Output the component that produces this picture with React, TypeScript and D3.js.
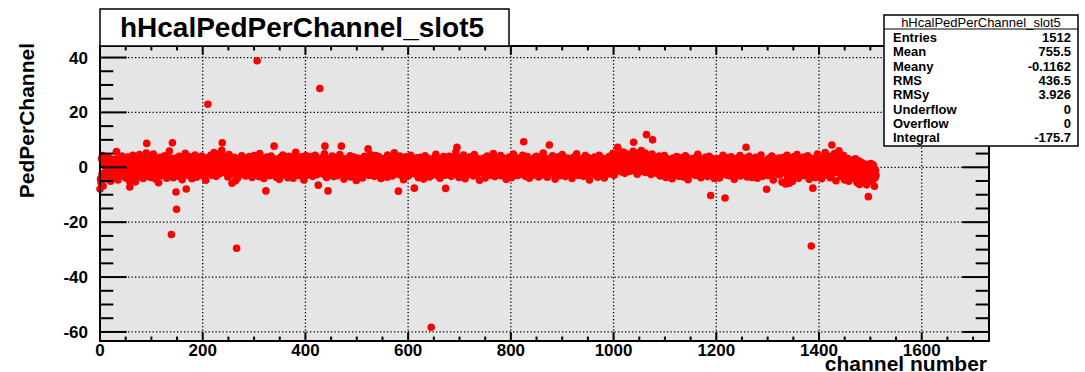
import React from "react";
import * as d3 from "d3";

// Pedestal value per channel (channel number = array index), slot 5.
const pedPerChannel: number[] = [
  -7.9, -4.2, -5.6, 3.1, -2.4, 4.3, -6.8, 1.2, -3.5, 2.7, 0.4, -1.9, 3.8, -0.6, 2.2, -4.4, 1.5, -2.8, 0.9, 3.3, -1.2, -5.1, 2.0, -0.3,
  0.8, -2.5, 1.9, -3.6, 2.4, -0.7, 3.0, -1.4, 5.7, -2.1, 0.3, -4.6, 1.7, 2.9, -0.9, -3.2, 2.5, 0.6, -1.8, 4.1, -2.7, 1.1, -0.4, 3.4,
  -1.6, 2.3, -3.9, 0.7, 1.8, -2.2, 3.7, -0.8, 0.2, -4.9, -7.2, 1.4, -1.1, 2.6, -3.0, 0.5, 4.4, -2.6, 1.0, -0.2, 2.8, -5.3, 0.1, -1.7,
  3.2, -0.5, -2.9, 1.6, -1.3, 4.6, -3.4, 2.1, -0.1, 0.9, -2.4, 3.5, -4.1, 1.3, -0.6, 2.7, -1.9, 0.4, 5.2, 8.7, -2.0, 1.7, -3.3, 0.6,
  2.4, -1.5, 0.2, -3.7, 3.9, -0.9, 1.4, -2.6, 4.8, 0.3, -1.0, 2.2, -4.3, 1.9, -0.4, 3.1, -2.3, 0.7, -5.6, 2.5, -1.4, 3.6, 0.0, -2.9,
  1.2, -3.1, 2.9, -0.7, 0.6, -1.8, 4.2, -2.5, 1.5, 3.0, -4.0, 0.8, -1.2, 2.3, -0.3, 5.9, -2.1, 1.8, 3.4, -24.5, -0.6, 8.9, 2.0, -3.8,
  0.4, 2.6, -1.7, 3.3, -9.0, -15.3, 1.1, -2.8, 0.9, -0.5, 4.0, -3.4, 1.6, -1.1, 2.4, 0.2, -4.5, 3.7, -0.9, 1.3, -2.2, 0.6, 5.1, -1.6,
  -7.9, 2.1, -0.8, 1.5, -3.0, 3.9, 0.3, -2.0, 2.7, -1.3, 0.5, -4.2, 1.9, 3.2, -0.6, -2.7, 0.8, 4.5, -1.5, 2.2, -3.6, 0.1, 1.4, -0.9,
  3.0, -1.9, 0.6, 2.4, -2.5, 1.3, 4.1, -0.4, -3.2, 1.8, 0.0, 3.5, -1.2, 2.9, -4.7, 0.7, 1.6, -0.7, 23.0, 2.0, -2.3, 3.7, 0.9, -1.1,
  4.4, 1.0, -2.9, 2.6, 0.3, -1.6, 5.4, 1.9, -0.2, 3.1, -3.3, 0.8, 2.2, -1.0, 4.7, 0.4, -2.4, 1.5, 3.8, -0.5, 2.5, 6.2, 8.9, 1.2,
  2.8, -0.3, 4.0, 1.1, -2.1, 3.4, 0.5, -1.4, 2.0, -3.5, 1.7, 4.6, -0.8, 0.2, 3.0, -2.6, 1.3, -5.8, 2.3, 0.7, -1.9, 3.6, -0.1, 1.8,
  -4.9, 0.9, -29.5, 2.7, -3.9, 1.4, -0.6, 3.2, -2.0, 0.4, 2.1, -1.3, 4.2, -0.4, 1.0, -2.7, 3.5, 0.0, -1.8, 2.6, -3.2, 1.7, 0.6, -0.9,
  2.3, -1.1, 0.8, 3.9, -2.4, 1.2, -0.5, 2.9, -3.7, 0.3, 1.9, -1.6, 4.3, 0.7, -2.2, 1.5, 3.1, -0.2, 38.8, -1.0, 2.4, -3.4, 0.9, 5.0,
  -0.7, 2.0, -2.8, 1.6, 3.4, -1.3, 0.2, -4.1, 2.5, 0.6, -1.9, -8.6, 1.3, 3.7, -0.4, -2.5, 0.9, 2.7, -3.1, 1.0, -0.8, 4.1, -1.5, 0.5,
  2.2, -2.3, 0.4, 7.7, 1.7, -0.9, 3.0, -3.6, 0.8, 1.5, -1.4, 2.8, -0.2, -4.4, 2.0, 0.1, 3.6, -1.7, 1.1, -2.9, 4.5, 0.6, -0.6, 1.9,
  -1.0, 3.3, 0.7, -2.6, 1.4, 2.1, -3.8, 0.3, 4.0, -1.5, 1.8, -0.3, 2.6, -2.1, 0.9, 3.5, -4.0, 1.2, 0.0, 2.9, -1.2, 5.5, -2.4, 0.8,
  1.6, -0.5, 3.1, -3.0, 0.4, 2.3, -1.7, 1.0, -2.3, 3.8, 0.6, -0.9, 1.9, -4.6, 2.7, 0.2, -1.3, 4.3, -0.4, 1.4, -2.8, 0.7, 3.2, -1.1,
  0.5, 2.6, -2.0, 1.3, 3.9, -0.6, -3.3, 2.1, 0.0, 1.7, -1.6, 4.4, -0.2, 2.4, -2.7, 0.9, 1.5, -6.5, 3.0, -0.8, 28.7, 1.1, -1.9, 2.8,
  -1.4, 3.5, 0.3, -2.5, 1.8, 4.9, 7.7, -0.7, 2.0, -3.7, 0.8, 1.6, -8.6, 2.9, -0.1, -1.8, 3.3, 0.6, -2.9, 1.2, 4.1, -0.9, 2.2, -3.4,
  1.0, -0.4, 2.7, -1.9, 3.6, 0.5, -3.1, 1.4, 2.3, -1.2, 0.2, 4.6, -2.3, 1.9, 7.7, -0.6, 0.9, 3.2, -1.5, -4.3, 2.5, 0.1, 1.7, -2.0,
  3.0, -1.0, 1.3, -2.8, 0.6, 2.4, -0.3, 4.2, -3.5, 1.1, 0.4, 2.9, -1.7, 0.0, 3.7, -2.2, 1.6, -0.8, 2.1, -4.8, 0.7, 3.4, -1.3, 1.8,
  -0.5, 2.6, -2.6, 1.5, 3.1, -1.1, 0.3, -3.9, 2.2, 0.8, -1.8, 4.0, 1.2, -0.2, -2.4, 3.3, 0.5, -1.4, 6.7, 2.0, -3.0, 0.9, 4.6, -0.7,
  1.4, -2.1, 3.5, 0.2, -0.9, 2.8, -3.3, 1.0, 0.6, 4.3, -1.6, 2.2, -0.4, -2.9, 1.7, 3.9, -1.2, 0.4, 2.5, -4.1, 1.3, -0.6, 3.0, 0.0,
  2.7, -1.5, 0.7, 3.2, -2.7, 1.9, -0.1, -3.6, 4.5, 0.9, -1.0, 2.4, -2.0, 1.1, 3.6, -0.8, 0.3, -3.2, 2.0, 1.5, -1.7, 5.3, -0.3, 1.2,
  -2.4, 0.8, 3.0, -1.3, 1.6, -8.7, 2.3, -0.5, 4.1, -2.8, 0.2, 1.8, -1.9, 3.4, 0.6, -4.5, 2.6, -0.2, 1.0, -2.3, 3.8, 0.4, -1.1, 2.1,
  0.9, -3.1, 2.4, 1.2, -0.7, 4.4, -2.2, 0.5, 1.9, -1.6, 3.1, -0.3, -7.6, 2.7, 0.1, -2.5, 1.4, 3.5, -1.0, 0.7, -3.8, 2.2, -0.6, 1.6,
  3.6, -0.8, 1.1, -2.0, 2.8, 0.3, -4.3, 1.7, -1.2, 4.2, 0.6, -2.7, 2.0, -0.1, 3.3, -1.8, 0.8, 2.5, -3.5, 1.3, -0.4, -58.3, 2.9, -1.5,
  1.0, 3.1, -2.6, 0.4, -1.1, 2.6, 4.7, -0.9, 0.2, -3.0, 1.8, 2.3, -1.7, 0.7, -4.0, 3.0, -0.5, 1.5, 2.2, -2.1, 0.0, 3.9, -1.4, 0.6,
  -2.9, -7.7, 1.9, 3.4, -0.6, 0.9, -2.4, 2.1, 4.0, -1.5, 0.3, 1.2, -3.3, 2.7, -0.2, 1.6, -1.8, 3.7, 0.5, -2.5, 1.4, 5.6, -0.8, 7.3,
  0.7, -1.9, 2.5, -3.7, 1.3, 3.5, -0.4, 0.0, 2.9, -2.2, 1.6, -0.7, 4.5, -1.3, 0.8, -4.2, 2.0, 1.1, -2.8, 3.2, -0.1, 1.7, -1.6, 2.6,
  -1.0, 3.8, 0.4, -2.3, 2.2, -0.5, 1.0, -3.2, 0.6, 4.6, -1.4, 1.8, -0.2, 2.4, -2.6, 0.9, 3.1, -0.9, 1.5, -4.7, 2.8, 0.2, -1.2, 1.3,
  2.5, -2.0, 0.1, 3.3, -1.6, 1.4, -3.9, 0.8, 2.0, -0.6, 4.1, -2.4, 1.2, 0.3, -1.3, 3.6, -0.3, 1.9, -2.9, 0.6, 2.7, -1.0, 5.0, -0.7,
  1.1, -3.4, 2.3, 0.5, -0.8, 3.0, -1.9, 1.7, -2.6, 0.9, 2.6, -0.4, 4.3, -3.1, 0.0, 1.5, -1.5, 3.4, 0.7, -2.2, 1.9, -0.2, 2.4, -4.4,
  0.6, 2.8, -1.2, 1.4, -2.7, 3.7, 0.2, -0.6, 1.8, -3.8, 2.2, 0.4, -1.4, 4.8, -0.9, 1.0, 2.9, -2.1, 0.3, 1.6, -0.5, -3.0, 3.2, 0.8,
  -1.7, 1.3, 3.5, -0.3, 0.9, -2.5, 2.1, 4.4, 0.1, 9.3, -1.1, 2.7, -3.3, 0.7, 1.5, -0.8, 3.9, -2.0, 0.4, 2.3, -4.0, 1.2, -0.2, 2.0,
  0.3, -1.4, 2.9, -2.9, 1.6, 0.5, -0.7, 3.6, -2.2, 1.0, 4.0, -1.5, 0.8, 2.5, -3.5, 0.0, 1.7, -0.5, 3.1, -1.9, 0.6, 2.2, -2.8, 5.2,
  -0.9, 2.0, -2.4, 1.5, 3.3, -1.0, 0.4, -3.6, 2.6, 0.9, -1.3, 8.1, 1.1, -0.3, 2.8, -2.1, 0.2, 4.2, -1.7, 1.3, -0.6, 3.0, -4.3, 0.7,
  1.9, -0.4, 2.4, -2.7, 0.8, 3.8, -1.5, 0.1, -3.1, 2.2, 1.0, -0.8, 4.6, -2.0, 1.4, 0.3, -1.1, 2.7, -3.4, 0.9, 1.8, -0.2, 3.4, -1.8,
  0.5, 3.1, -2.2, 1.2, -0.6, 2.6, 0.0, -4.1, 1.7, -1.4, 3.6, 0.6, -2.5, 1.9, -0.9, 2.3, 4.9, -1.6, 0.4, -3.0, 2.0, 1.1, -0.3, 2.8,
  -2.0, 0.8, 1.6, -1.2, 3.2, -3.3, 2.1, 0.2, -0.7, 4.3, 1.3, -2.6, 0.5, 2.7, -1.6, 3.5, 0.0, -4.6, 1.9, 2.4, -0.4, -1.9, 3.0, 1.0,
  2.2, -1.1, 0.6, 3.7, -2.8, 1.4, -0.5, 2.9, 0.9, -3.6, 1.8, 0.1, 4.4, -1.7, 2.3, -0.9, -2.3, 1.2, 3.3, 0.4, -1.3, 2.6, -3.9, 0.7,
  1.5, -0.2, 2.8, 0.3, -1.8, 3.5, 1.1, -2.4, 4.0, 0.6, 2.0, -1.0, 3.1, 0.9, -0.6, 5.1, 1.7, -2.9, 2.5, 0.0, 3.9, 1.3, -1.4, 4.6,
  7.3, 1.8, 3.6, -0.9, 2.4, 4.4, 0.5, 2.9, -1.7, 3.2, 1.0, 5.6, 0.2, 2.1, -2.2, 3.8, 1.4, 4.9, -0.4, 2.6, 0.8, 3.4, -1.5, 2.0,
  3.0, 0.4, 4.2, 1.5, -1.2, 2.7, 5.8, 9.1, 0.9, 3.5, -0.8, 2.2, 4.6, 1.1, -2.5, 3.1, 0.0, 5.3, 2.4, -1.6, 3.8, 1.6, 6.1, 0.6,
  2.5, 4.0, -0.3, 3.3, 1.2, 5.2, -1.9, 2.8, 11.9, 0.7, 3.9, 1.9, -0.7, 4.5, 2.3, 0.1, 3.6, -2.6, 1.4, 4.8, 10.0, 2.0, -0.5, 3.2,
  1.3, -1.5, 2.6, 0.4, 3.7, -2.3, 0.9, 2.0, -0.6, 4.1, 1.0, -3.2, 2.4, 0.2, -1.2, 3.3, 0.6, -2.0, 1.7, 4.3, -0.9, 2.8, -3.7, 1.1,
  0.0, 2.3, -1.6, 3.0, 0.7, -2.9, 1.5, -0.4, 2.9, 0.3, -4.2, 1.8, 3.4, -1.0, 0.8, 2.2, -2.5, 1.0, -0.2, 3.9, -1.4, 0.5, 2.5, -3.3,
  1.6, -0.7, 2.8, -2.1, 0.4, 3.5, -1.3, 1.1, -3.5, 2.0, 0.6, -0.5, 4.2, -1.8, 1.4, 0.0, 2.6, -4.5, 1.2, -0.9, 3.1, 0.8, -2.2, 1.9,
  -1.1, 2.4, 0.2, -2.6, 3.3, 1.0, -0.6, 2.7, -3.0, 0.9, 1.7, -1.5, 4.7, 0.3, -2.3, 1.4, 2.1, -0.3, -3.8, 1.0, 3.0, -1.2, 0.5, 2.3,
  0.8, -2.0, 1.9, 3.6, -1.4, 0.1, 2.5, -3.4, 1.2, -0.8, 4.0, 0.6, -2.7, -10.3, 1.6, -0.2, 3.2, -1.7, 0.4, 2.0, -4.1, 1.3, -0.5, 2.9,
  -2.2, 1.5, 0.3, 3.1, -1.0, 2.2, -3.9, 0.7, 1.8, -0.4, 2.9, -2.4, 0.0, 4.4, -1.6, 1.1, -0.8, -11.2, 2.6, 0.5, -2.8, 1.7, 3.5, -1.3,
  0.9, -3.1, 2.0, 1.2, -0.5, 3.8, -2.0, 0.4, 2.4, -1.2, 0.8, -4.4, 1.5, 2.8, -0.3, 1.0, -2.6, 3.3, 0.1, -1.4, 2.2, -0.7, 4.3, -3.2,
  1.4, 0.2, -1.8, 2.7, -0.9, 3.4, 0.6, -2.5, 1.9, -0.1, 7.3, 2.1, -3.5, 0.8, 1.6, -1.1, 4.0, -2.2, 0.5, 2.5, -0.4, -3.7, 1.2, 3.0,
  -0.6, 2.3, -2.9, 1.0, 0.4, 3.6, -1.5, 2.0, -4.0, 0.7, 1.4, -0.8, 2.9, -2.3, 0.1, 4.5, -1.2, 1.8, -3.3, 0.3, 2.4, -0.5, 1.1, -2.7,
  1.5, -1.9, -8.0, 2.6, 0.0, -3.0, 1.9, 3.3, -1.3, 0.6, 2.2, -2.4, 4.1, -0.3, 1.0, -4.6, 2.7, 0.4, -1.6, 3.1, -0.7, 1.3, -2.1, 0.8,
  2.0, -0.5, 3.4, -2.8, 1.1, -1.2, 0.3, 2.7, -5.4, 1.7, -0.8, 3.6, 0.5, -2.0, 2.3, -6.1, 0.9, -1.5, 4.4, -3.6, 1.4, 0.0, -5.8, 2.1,
  -2.4, 1.2, 3.0, -0.9, -5.2, 2.5, 0.6, -1.7, 3.9, -3.3, 1.0, 0.2, -2.2, 4.6, -0.6, 1.8, -4.0, 2.9, 0.4, -1.1, 3.3, -2.7, 1.5, 0.1,
  2.4, -1.4, 0.8, 3.7, -3.1, 1.3, -0.3, 2.2, -2.0, 0.5, 4.2, -1.8, 1.6, -4.4, 2.8, 0.0, -0.9, -28.7, 3.2, 1.1, -7.6, 0.7, -2.6, 2.0,
  1.0, -3.7, 2.6, 0.3, -1.5, 4.8, -0.2, 1.9, -2.9, 3.1, 0.6, -1.0, 2.3, -4.2, 1.4, 3.5, -0.7, 0.9, -3.0, 2.7, 5.4, -1.6, 0.2, -2.3,
  3.0, -0.4, 1.7, -2.5, 2.2, 0.8, -3.8, 4.0, 1.3, 8.1, -1.1, 2.9, 0.1, -2.1, 5.0, -0.8, 1.8, -4.9, 3.4, 0.5, -1.9, 2.5, -0.3, 6.0,
  -1.2, 2.1, 0.4, -3.4, 3.8, -0.7, 1.5, -2.0, 4.3, 0.9, -4.6, 1.7, -0.2, 2.8, -1.6, 0.6, 3.2, -2.8, -5.1, 1.0, 2.4, -0.9, -3.6, 1.4,
  -0.8, 2.6, -2.3, 0.7, -4.1, 1.9, -1.5, 3.1, -3.2, 0.2, -5.5, 1.2, -2.6, -0.4, 2.3, -6.3, -1.0, 0.9, -3.8, -2.2, 1.6, -4.7, -0.6, -2.9,
  -1.8, 0.5, -4.4, -2.5, 1.1, -6.4, -0.9, -3.3, -10.7, -1.4, 0.3, -5.0, -2.1, 1.4, -3.6, -0.7, -4.8, -1.9, 0.8, -2.8, -6.9, -3.9, -1.2, -3.0,
];

const xTickValues = [0, 200, 400, 600, 800, 1000, 1200, 1400, 1600];
const yTickValues = [-60, -40, -20, 0, 20, 40];

const histName = "hHcalPedPerChannel_slot5";
const statNames = ["Entries", "Mean", "Meany", "RMS", "RMSy", "Underflow", "Overflow", "Integral"];
const statValues = ["1512", "755.5", "-0.1162", "436.5", "3.926", "0", "0", "-175.7"];

const W = 1085;
const H = 372;
const FRAME = { left: 100, right: 989, top: 46, bottom: 341 };
const FONT = "'Liberation Sans', Arial, Helvetica, sans-serif";

export default function App() {
  const x = d3.scaleLinear().domain([0, 1731]).range([FRAME.left, FRAME.right]);
  const y = d3.scaleLinear().domain([-63.3, 44.2]).range([FRAME.bottom, FRAME.top]);

  const xMinor = d3.range(0, 1731, 50).filter((v) => v % 200 !== 0);
  const yMinor = d3.range(-60, 44, 5).filter((v) => v % 20 !== 0);

  const plotW = FRAME.right - FRAME.left;
  const plotH = FRAME.bottom - FRAME.top;
  // tick lengths follow the perpendicular axis length
  const xMajLen = plotH * 0.03;
  const yMajLen = plotW * 0.03;

  const statsBox = { x: 884, y: 15, w: 194, h: 131 };
  const rowH = 14.3;

  return (
    <svg
      width={W}
      height={H}
      style={{ position: "absolute", left: 0, top: 0, display: "block" }}
      fontFamily={FONT}
    >
      <rect x={0} y={0} width={W} height={H} fill="#ffffff" />

      {/* frame background */}
      <rect x={FRAME.left} y={FRAME.top} width={plotW} height={plotH} fill="#e5e5e5" />

      {/* grid */}
      <g stroke="#000" strokeWidth={1.3} strokeDasharray="1.3 2.2">
        {xTickValues.slice(1).map((v) => (
          <line key={"gx" + v} x1={x(v)} x2={x(v)} y1={FRAME.top} y2={FRAME.bottom} />
        ))}
        {yTickValues.map((v) => (
          <line key={"gy" + v} x1={FRAME.left} x2={FRAME.right} y1={y(v)} y2={y(v)} />
        ))}
      </g>

      {/* markers */}
      <g fill="#ff0000">
        {pedPerChannel.map((v, i) => (
          <circle key={i} cx={x(i)} cy={y(v)} r={3.8} />
        ))}
      </g>

      {/* ticks on all four sides */}
      <g stroke="#000" strokeWidth={2}>
        {xTickValues.map((v) => (
          <g key={"tx" + v}>
            <line x1={x(v)} x2={x(v)} y1={FRAME.bottom} y2={FRAME.bottom - xMajLen} />
            <line x1={x(v)} x2={x(v)} y1={FRAME.top} y2={FRAME.top + xMajLen} />
          </g>
        ))}
        {xMinor.map((v) => (
          <g key={"mx" + v}>
            <line x1={x(v)} x2={x(v)} y1={FRAME.bottom} y2={FRAME.bottom - xMajLen / 2} />
            <line x1={x(v)} x2={x(v)} y1={FRAME.top} y2={FRAME.top + xMajLen / 2} />
          </g>
        ))}
        {yTickValues.map((v) => (
          <g key={"ty" + v}>
            <line x1={FRAME.left} x2={FRAME.left + yMajLen} y1={y(v)} y2={y(v)} />
            <line x1={FRAME.right} x2={FRAME.right - yMajLen} y1={y(v)} y2={y(v)} />
          </g>
        ))}
        {yMinor.map((v) => (
          <g key={"my" + v}>
            <line x1={FRAME.left} x2={FRAME.left + yMajLen / 2} y1={y(v)} y2={y(v)} />
            <line x1={FRAME.right} x2={FRAME.right - yMajLen / 2} y1={y(v)} y2={y(v)} />
          </g>
        ))}
      </g>

      {/* frame */}
      <rect
        x={FRAME.left}
        y={FRAME.top}
        width={plotW}
        height={plotH}
        fill="none"
        stroke="#000"
        strokeWidth={2}
      />

      {/* tick labels */}
      <g fontSize={17} fontWeight="bold" fill="#000">
        {xTickValues.map((v) => (
          <text key={"lx" + v} x={x(v)} y={356} textAnchor="middle">
            {v}
          </text>
        ))}
        {yTickValues.map((v) => (
          <text key={"ly" + v} x={88} y={y(v) + 6} textAnchor="end">
            {v}
          </text>
        ))}
      </g>

      {/* axis titles */}
      <text x={987} y={371} textAnchor="end" fontSize={21} fontWeight="bold">
        channel number
      </text>
      <text
        transform={`translate(34, 43) rotate(-90)`}
        textAnchor="end"
        fontSize={21}
        fontWeight="bold"
      >
        PedPerChannel
      </text>

      {/* title box */}
      <rect x={100} y={9} width={409} height={37} fill="#fff" stroke="#000" strokeWidth={1.5} />
      <text x={302} y={37} textAnchor="middle" fontSize={28} fontWeight="bold">
        {histName}
      </text>

      {/* statistics box */}
      <rect
        x={statsBox.x}
        y={statsBox.y}
        width={statsBox.w}
        height={statsBox.h}
        fill="#fff"
        stroke="#000"
        strokeWidth={1.5}
      />
      <line
        x1={statsBox.x}
        x2={statsBox.x + statsBox.w}
        y1={statsBox.y + 14}
        y2={statsBox.y + 14}
        stroke="#000"
        strokeWidth={1.2}
      />
      <text x={statsBox.x + statsBox.w / 2} y={statsBox.y + 11.5} textAnchor="middle" fontSize={13}>
        {histName}
      </text>
      <g fontSize={13} fontWeight="bold">
        {statNames.map((name, i) => (
          <g key={name}>
            <text x={statsBox.x + 9} y={statsBox.y + 27 + i * rowH}>
              {name}
            </text>
            <text x={statsBox.x + statsBox.w - 7} y={statsBox.y + 27 + i * rowH} textAnchor="end">
              {statValues[i]}
            </text>
          </g>
        ))}
      </g>
    </svg>
  );
}
